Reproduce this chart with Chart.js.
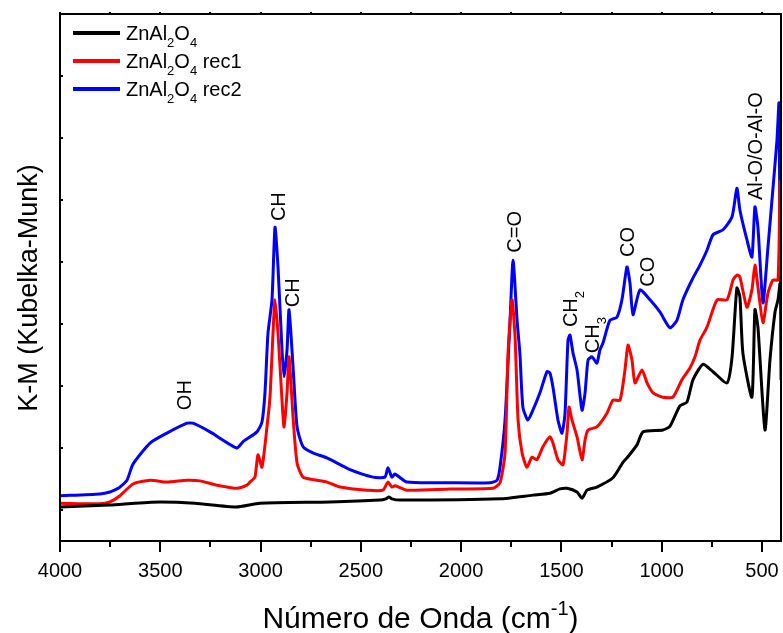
<!DOCTYPE html>
<html>
<head>
<meta charset="utf-8">
<script src="https://cdn.jsdelivr.net/npm/chart.js@4.4.1/dist/chart.umd.min.js"></script>
<style>
  html, body { margin: 0; padding: 0; background: #ffffff; }
  #wrap { width: 783px; height: 633px; position: relative; }
</style>
</head>
<body>
<div id="wrap"><canvas id="c" width="783" height="633"></canvas></div>
<script>
// Series names (_{..} marks a subscript) and colours
const seriesLabels = ['ZnAl_{2}O_{4}', 'ZnAl_{2}O_{4} rec1', 'ZnAl_{2}O_{4} rec2'];
const seriesColors = ['#000000', '#ff0000', '#0000ff'];

// ZnAl2O4
const blackWavenumber = [4000,3751,3626,3501,3327,3122,3003,2654,2405,2375,2360,2345,2305,1806,1642,1557,1507,1472,1422,1397,1372,1323,1243,1193,1173,1123,1093,994,959,909,874,844,794,744,674,649,625,610,595,550,535,520,485,460,435,420,410];
const blackKM = [0.05,0.08,0.11,0.13,0.11,0.05,0.11,0.13,0.16,0.18,0.21,0.18,0.16,0.18,0.24,0.27,0.34,0.35,0.29,0.19,0.32,0.37,0.52,0.77,0.84,1.05,1.26,1.29,1.35,1.68,1.74,2.10,2.35,2.23,2.05,2.47,3.58,3.44,2.53,1.82,3.23,2.95,1.29,2.42,3.19,3.39,3.66];

// ZnAl2O4 rec1
const redWavenumber = [4000,3801,3751,3701,3636,3551,3467,3367,3302,3217,3118,3068,3053,3028,3013,2993,2968,2953,2938,2928,2913,2893,2883,2868,2858,2838,2818,2788,2719,2669,2604,2469,2390,2365,2345,2330,2270,2056,1841,1806,1781,1766,1746,1731,1716,1696,1672,1647,1622,1592,1557,1542,1517,1492,1472,1462,1447,1422,1397,1382,1367,1323,1273,1243,1208,1183,1168,1148,1133,1098,1073,1043,994,944,899,859,834,809,774,724,674,644,625,610,575,550,535,520,495,470,445,420,410];
const redKM = [0.11,0.10,0.13,0.23,0.42,0.48,0.45,0.48,0.47,0.40,0.35,0.40,0.45,0.53,0.89,0.69,1.34,1.82,2.85,3.39,2.85,1.77,1.34,1.89,2.47,1.50,0.76,0.53,0.48,0.45,0.37,0.32,0.32,0.45,0.37,0.39,0.32,0.34,0.35,0.44,0.92,2.53,3.39,2.79,1.45,0.92,0.69,0.85,0.81,1.02,1.18,1.08,0.81,0.73,1.24,1.66,1.45,1.18,0.81,1.13,1.29,1.34,1.56,1.77,1.77,2.26,2.66,2.42,2.05,2.26,2.05,1.89,1.82,1.82,2.10,2.29,2.47,2.74,2.95,3.39,3.39,3.71,3.79,3.76,3.27,3.55,3.95,3.60,3.02,3.50,3.71,3.71,5.32];

// ZnAl2O4 rec2
const blueWavenumber = [4000,3801,3751,3716,3701,3666,3636,3551,3467,3367,3337,3252,3118,3088,3018,2993,2978,2963,2943,2928,2913,2893,2883,2868,2858,2838,2818,2788,2739,2669,2554,2439,2380,2365,2345,2330,2270,2056,1856,1821,1806,1781,1756,1741,1721,1707,1692,1667,1642,1607,1572,1557,1542,1517,1497,1482,1467,1457,1442,1422,1397,1382,1367,1347,1323,1308,1293,1258,1223,1198,1173,1158,1143,1108,1058,1008,959,924,894,849,809,774,744,694,649,625,610,575,550,535,520,495,470,450,425,415,405];
const blueKM = [0.23,0.26,0.29,0.34,0.37,0.48,0.74,1.08,1.24,1.40,1.40,1.26,1.00,1.10,1.26,1.42,1.89,2.85,3.39,4.56,3.92,2.58,2.15,2.58,3.23,2.31,1.34,1.02,0.92,0.84,0.65,0.53,0.53,0.68,0.53,0.58,0.45,0.44,0.44,0.48,0.69,1.45,3.06,4.03,3.06,2.53,1.66,1.45,1.61,1.89,2.23,2.21,1.98,1.45,1.24,1.56,2.74,2.82,2.53,2.26,1.61,1.89,2.42,2.47,2.37,2.58,2.69,3.06,3.11,3.39,3.92,3.66,3.15,3.55,3.39,3.19,2.94,3.06,3.39,3.71,3.95,4.19,4.44,4.52,4.73,5.19,4.84,4.36,4.08,4.89,4.56,3.34,4.24,5.00,5.97,6.56,2.10];

// Axis ticks
const xMajorTicks = [4000, 3500, 3000, 2500, 2000, 1500, 1000, 500];
const xMinorTicks = [3750, 3250, 2750, 2250, 1750, 1250, 750];
const yTicks = [0, 1, 2, 3, 4, 5, 6, 7];

// Band assignments: label, wavenumber and K-M level where the text starts
const peakLabels = ['OH', 'CH', 'CH', 'C=O', 'CH_{2}', 'CH_{3}', 'CO', 'CO', 'Al-O/O-Al-O'];
const peakWavenumber = [3382, 2913, 2843, 1736, 1457, 1347, 1173, 1073, 535];
const peakKM = [1.61, 4.66, 3.27, 4.15, 2.95, 2.53, 4.08, 3.60, 5.0];

const FONT = "'Liberation Sans', Arial, Helvetica, sans-serif";

function parseRich(text) {
  const parts = [];
  const re = /(_|\^)\{([^}]*)\}/g;
  let last = 0, m;
  while ((m = re.exec(text))) {
    if (m.index > last) parts.push({ t: text.slice(last, m.index), k: 'n' });
    parts.push({ t: m[2], k: m[1] === '_' ? 'sub' : 'sup' });
    last = re.lastIndex;
  }
  if (last < text.length) parts.push({ t: text.slice(last), k: 'n' });
  return parts;
}
function richWidth(ctx, text, size) {
  let w = 0;
  for (const p of parseRich(text)) {
    ctx.font = (p.k === 'n' ? size : Math.round(size * 0.65)) + 'px ' + FONT;
    w += ctx.measureText(p.t).width;
  }
  return w;
}
function drawRich(ctx, text, x, y, size) {
  ctx.textAlign = 'left';
  ctx.textBaseline = 'alphabetic';
  let cx = x;
  for (const p of parseRich(text)) {
    const s = p.k === 'n' ? size : Math.round(size * 0.65);
    ctx.font = s + 'px ' + FONT;
    const dy = p.k === 'sub' ? size * 0.34 : (p.k === 'sup' ? -size * 0.45 : 0);
    ctx.fillText(p.t, cx, y + dy);
    cx += ctx.measureText(p.t).width;
  }
  return cx - x;
}

function toPoints(xs, ys) { return xs.map((x, i) => ({ x: x, y: ys[i] })); }

// Frame, ticks, titles, legend and band labels
const decorations = {
  id: 'decorations',
  afterDatasetsDraw(chart) {
    const ctx = chart.ctx;
    const a = chart.chartArea;
    const xs = chart.scales.x, ys = chart.scales.y;
    ctx.save();
    ctx.fillStyle = '#000';
    ctx.strokeStyle = '#000';

    // frame
    ctx.lineWidth = 2;
    ctx.strokeRect(a.left, a.top, a.right - a.left, a.bottom - a.top);

    // bottom ticks (outward) and top ticks
    ctx.lineWidth = 2;
    ctx.beginPath();
    for (const v of xMajorTicks) {
      const px = Math.round(xs.getPixelForValue(v));
      ctx.moveTo(px, a.bottom); ctx.lineTo(px, a.bottom + 11);
      ctx.moveTo(px, a.top); ctx.lineTo(px, a.top - 2);
    }
    for (const v of xMinorTicks) {
      const px = Math.round(xs.getPixelForValue(v));
      ctx.moveTo(px, a.bottom); ctx.lineTo(px, a.bottom + 6);
      ctx.moveTo(px, a.top); ctx.lineTo(px, a.top - 2);
    }
    // left ticks (inward)
    for (const v of yTicks) {
      const py = Math.round(ys.getPixelForValue(v));
      ctx.moveTo(a.left, py); ctx.lineTo(a.left + 3, py);
    }
    ctx.stroke();

    // x tick labels
    ctx.font = '20px ' + FONT;
    ctx.textAlign = 'center';
    ctx.textBaseline = 'alphabetic';
    for (const v of xMajorTicks) {
      ctx.fillText(String(v), xs.getPixelForValue(v), a.bottom + 36);
    }

    // x title
    const xt = 'Número de Onda (cm^{-1})';
    const xtw = richWidth(ctx, xt, 30);
    drawRich(ctx, xt, (a.left + a.right) / 2 - xtw / 2, 628, 30);

    // y title
    ctx.save();
    ctx.translate(37, 288);
    ctx.rotate(-Math.PI / 2);
    ctx.font = '27px ' + FONT;
    ctx.textAlign = 'center';
    ctx.textBaseline = 'alphabetic';
    ctx.fillText('K-M (Kubelka-Munk)', 0, 0);
    ctx.restore();

    // legend
    chart.data.datasets.forEach((ds, i) => {
      const ly = 33 + i * 28;
      ctx.strokeStyle = ds.borderColor;
      ctx.lineWidth = 4;
      ctx.beginPath();
      ctx.moveTo(a.left + 13, ly); ctx.lineTo(a.left + 60, ly);
      ctx.stroke();
      ctx.fillStyle = '#000';
      drawRich(ctx, seriesLabels[i], a.left + 66, ly + 7, 20);
    });

    // band labels, written upwards
    peakLabels.forEach((t, i) => {
      const px = xs.getPixelForValue(peakWavenumber[i]);
      const py = ys.getPixelForValue(peakKM[i]);
      ctx.save();
      ctx.translate(px, py);
      ctx.rotate(-Math.PI / 2);
      drawRich(ctx, t, 0, 7, 20);
      ctx.restore();
    });

    ctx.restore();
  }
};

const lineStyle = { borderWidth: 3, pointRadius: 0, tension: 0.2, fill: false };

new Chart(document.getElementById('c'), {
  type: 'line',
  data: {
    datasets: [
      Object.assign({ label: seriesLabels[0], data: toPoints(blackWavenumber, blackKM), borderColor: seriesColors[0] }, lineStyle),
      Object.assign({ label: seriesLabels[1], data: toPoints(redWavenumber, redKM), borderColor: seriesColors[1] }, lineStyle),
      Object.assign({ label: seriesLabels[2], data: toPoints(blueWavenumber, blueKM), borderColor: seriesColors[2] }, lineStyle)
    ]
  },
  options: {
    responsive: false,
    animation: false,
    devicePixelRatio: 1,
    parsing: false,
    layout: { padding: { left: 60, right: 2, top: 14, bottom: 92 } },
    plugins: { legend: { display: false }, tooltip: { enabled: false } },
    scales: {
      x: { type: 'linear', reverse: true, min: 405, max: 4000, display: false },
      y: { type: 'linear', min: -0.5, max: 8, display: false }
    }
  },
  plugins: [decorations]
});
</script>
</body>
</html>
